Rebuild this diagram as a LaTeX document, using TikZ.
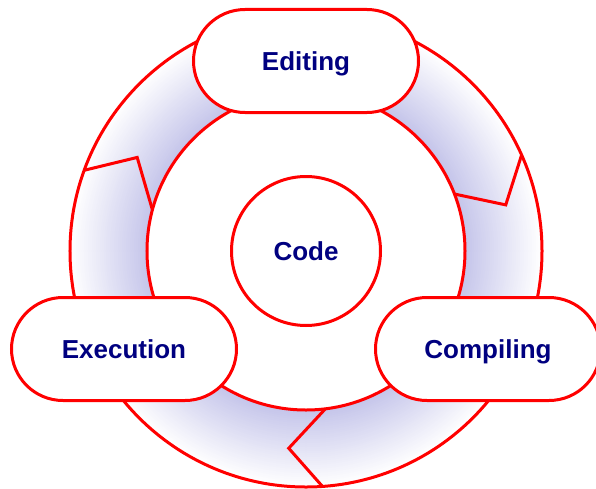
\documentclass[tikz,border=0pt]{standalone}
\usepackage{fontspec}
\setmainfont{Liberation Sans}
\usetikzlibrary{shapes.misc}
\definecolor{ringred}{RGB}{255,0,0}
\definecolor{ringblue}{RGB}{196,196,234}
\definecolor{labelblue}{RGB}{0,0,128}
\tikzset{
  stage/.style={rounded rectangle, draw=ringred, line width=3pt, fill=white,
    minimum width=225pt, minimum height=103pt, inner sep=0pt,
    text height=18.6pt, text depth=0pt,
    text=labelblue, font=\bfseries\fontsize{26}{30}\selectfont},
  hub/.style={circle, draw=ringred, line width=3pt, fill=white,
    minimum size=149pt, inner sep=0pt,
    text height=18.6pt, text depth=0pt,
    text=labelblue, font=\bfseries\fontsize{26}{30}\selectfont}
}
\begin{document}
\begin{tikzpicture}[x=1pt, y=1pt, line join=miter]
\useasboundingbox (-306,-237) rectangle (290,251);

% ring, fading from the inside out
\foreach \r in {236,234,...,160}{
  \pgfmathsetmacro{\p}{100*(236-\r)/77}
  \fill[ringblue!\p!white](0,0) circle (\r pt);
}
\fill[white](0,0) circle (159pt);
\draw[ringred, line width=3pt](0,0) circle (236pt);
\draw[ringred, line width=3pt](0,0) circle (159pt);

% arrow heads between the stages
\draw[ringred, line width=3pt](160:236)--(151:193)--(165:159);
\draw[ringred, line width=3pt](24:236)--(13:205)--(21:159);
\draw[ringred, line width=3pt](-86:236)--(-95:198)--(-83:159);

\node[hub] (code) at (0,0) {Code};
\node[stage] (editing) at (0,190) {Editing};
\node[stage] (compiling) at (182,-98) {Compiling};
\node[stage] (execution) at (-182,-98) {Execution};
\end{tikzpicture}
\end{document}
